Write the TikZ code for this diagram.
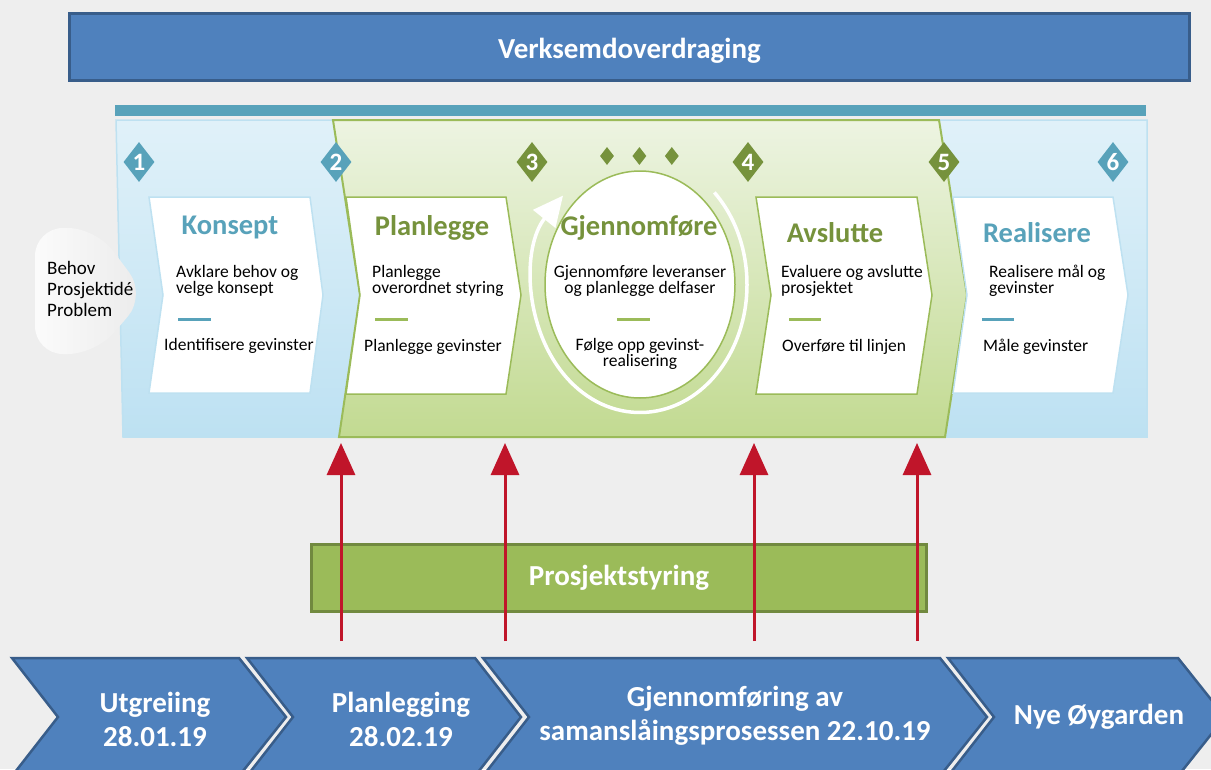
\documentclass[tikz,border=0pt]{standalone}
\usepackage{fontspec}
\setmainfont{Carlito}
\usetikzlibrary{shapes.geometric, arrows.meta, positioning, calc}
\definecolor{bgGray}{RGB}{238, 238, 238}
\definecolor{barBlue}{RGB}{79, 129, 189}
\definecolor{barBlueDark}{RGB}{56, 93, 138}
\definecolor{tealColor}{RGB}{88, 162, 186}
\definecolor{oliveColor}{RGB}{118, 146, 60}
\definecolor{lightGreen}{RGB}{155, 187, 89}
\definecolor{darkGreen}{RGB}{113, 137, 63}
\definecolor{panelBlueTop}{RGB}{224, 241, 249}
\definecolor{panelBlueBottom}{RGB}{189, 225, 242}
\definecolor{panelBlueLine}{RGB}{190, 225, 241}
\definecolor{panelGreenTop}{RGB}{237, 244, 226}
\definecolor{panelGreenBottom}{RGB}{194, 218, 145}
\definecolor{arrowRed}{RGB}{192, 21, 42}
\tikzstyle{topbar} = [rectangle, draw=barBlueDark, line width=3, fill=barBlue, text=white, text height=24, text depth=2, font=\bfseries\fontsize{29}{32}\selectfont]
\tikzstyle{greenbar} = [rectangle, draw=darkGreen, line width=3, fill=lightGreen, text=white, font=\bfseries\fontsize{29}{32}\selectfont]
\tikzstyle{bluepanel} = [draw=panelBlueLine, line width=1.5, top color=panelBlueTop, bottom color=panelBlueBottom]
\tikzstyle{greenpanel} = [draw=lightGreen, line width=2, top color=panelGreenTop, bottom color=panelGreenBottom]
\tikzstyle{bluecard} = [draw=panelBlueLine, line width=1.5, fill=white]
\tikzstyle{greencard} = [draw=lightGreen, line width=1.5, fill=white]
\tikzstyle{bluehead} = [text=tealColor, font=\bfseries\fontsize{28.5}{32}\selectfont]
\tikzstyle{greenhead} = [text=oliveColor, font=\bfseries\fontsize{28.5}{32}\selectfont]
\tikzstyle{bodytext} = [align=left, anchor=west, inner sep=0pt, font=\fontsize{17.5}{16}\selectfont\setlength{\lineskiplimit}{-20pt}]
\tikzstyle{tealdiamond} = [diamond, fill=tealColor, minimum width=31, minimum height=40, inner sep=0pt, text=white, font=\bfseries\fontsize{25}{25}\selectfont]
\tikzstyle{olivediamond} = [diamond, fill=oliveColor, minimum width=31, minimum height=40, inner sep=0pt, text=white, font=\bfseries\fontsize{25}{25}\selectfont]
\tikzstyle{smalldiamond} = [diamond, fill=oliveColor, minimum width=14, minimum height=18, inner sep=0pt]
\tikzstyle{chevron} = [draw=barBlueDark, line width=2.5, fill=barBlue]
\tikzstyle{chevtext} = [align=center, text=white, font=\bfseries\fontsize{29}{34}\selectfont]
\tikzstyle{redarrow} = [draw=arrowRed, line width=3, -{Triangle[length=32pt, width=28pt]}]

\begin{document}
\begin{tikzpicture}[x=1pt, y=-1pt]
				\useasboundingbox (0,0) rectangle (1211,769);
				\clip (0,0) rectangle (1211,769);
				\fill[bgGray] (0,0) rectangle (1211,769);
				
				\node (verksemd) [topbar, minimum width=1120, minimum height=67] at (629.5,47) {Verksemdoverdraging};
				\fill[tealColor] (115,105) rectangle (1146,116);
				
				% phase panels
				\path[bluepanel] (116,120) -- (1147,120) -- (1147,437) -- (123,437) -- cycle;
				\path[left color=white!97!gray, right color=gray!16, rounded corners=28] (146,295) -- (96,228) -- (35,228) -- (35,354) -- (96,354) -- cycle;
				\path[greenpanel] (333,120) -- (939,120) -- (967,295) -- (945,437) -- (339,437) -- (360,295) -- cycle;
				
				\path[bluecard] (149,197) -- (310,197) -- (323,295) -- (310,393) -- (149,393) -- (163,295) -- cycle;
				\path[greencard] (346,197) -- (506,197) -- (521,295) -- (506,394) -- (346,394) -- (360,295) -- cycle;
				\path[greencard] (756,197) -- (917,197) -- (932,295) -- (917,394) -- (756,394) -- (771,295) -- cycle;
				\path[bluecard] (953,197) -- (1113,197) -- (1128,295) -- (1113,393) -- (953,393) -- (967,295) -- cycle;
				
				\node (gjennom) [ellipse, draw=lightGreen, line width=1.5, fill=white, minimum width=190, minimum height=227, inner sep=0pt] at (640,284.5) {};
				\draw[white, line width=3.5, -{Triangle[length=30pt, width=28pt]}] (gjennom.center) ++(-46:107 and 128) arc[start angle=-46, end angle=224, x radius=107, y radius=128];
				
				% milestones
				\node (d1) [tealdiamond] at (139,162) {1};
				\node (d2) [tealdiamond] at (336,162) {2};
				\node (d3) [olivediamond] at (532,162) {3};
				\node (d4) [olivediamond] at (748,162) {4};
				\node (d5) [olivediamond] at (944,162) {5};
				\node (d6) [tealdiamond] at (1113,162) {6};
				\node (dot1) [smalldiamond] at (607,156) {};
				\node (dot2) [smalldiamond, right=18 of dot1] {};
				\node (dot3) [smalldiamond, right=18 of dot2] {};
				
				\node (behov) [bodytext, font=\fontsize{19}{21}\selectfont] at (47,289) {Behov\\Prosjektidé\\Problem};
				
				\node (konsept) [bluehead] at (230,227) {Konsept};
				\node (konseptmain) [bodytext] at (176,281) {Avklare behov og\\velge konsept};
				\draw[tealColor, line width=3] (178,319) -- (211,319);
				\node (konseptgain) [bodytext] at (164,346) {Identifisere gevinster};
				
				\node (planlegge) [greenhead] at (432,228) {Planlegge};
				\node (planleggemain) [bodytext] at (372,281) {Planlegge\\overordnet styring};
				\draw[lightGreen, line width=3] (375,319) -- (408,319);
				\node (planleggegain) [bodytext] at (364,347) {Planlegge gevinster};
				
				\node (gjennomhead) [greenhead] at (639,228) {Gjennomføre};
				\node (gjennommain) [bodytext, anchor=center, align=center] at (640,281) {Gjennomføre leveranser\\og planlegge delfaser};
				\draw[lightGreen, line width=3] (617,319) -- (650,319);
				\node (gjennomgain) [bodytext, anchor=center, align=center] at (640,354) {Følge opp gevinst-\\realisering};
				
				\node (avslutte) [greenhead] at (835,233) {Avslutte};
				\node (avsluttemain) [bodytext] at (781,281) {Evaluere og avslutte\\prosjektet};
				\draw[lightGreen, line width=3] (789,319) -- (821,319);
				\node (avsluttegain) [bodytext] at (782,347) {Overføre til linjen};
				
				\node (realisere) [bluehead] at (1037,233) {Realisere};
				\node (realiseremain) [bodytext] at (989,281) {Realisere mål og\\gevinster};
				\draw[tealColor, line width=3] (982,319) -- (1014,319);
				\node (realiseregain) [bodytext] at (983,347) {Måle gevinster};
				
				% steering
				\node (styring) [greenbar, minimum width=615, minimum height=67] at (619,578) {Prosjektstyring};
				\foreach \x [count=\i] in {341, 505, 754, 917} {
					\coordinate (foot\i) at (\x,641);
					\coordinate (tip\i) at (\x,443);
					\draw[redarrow] (foot\i) -- (tip\i);
				}
				
				% timeline
				\path[chevron] (12,658) -- (239,658) -- (286,717) -- (239,776) -- (12,776) -- (58,717) -- cycle;
				\path[chevron] (247,658) -- (475,658) -- (521,717) -- (475,776) -- (247,776) -- (293,717) -- cycle;
				\path[chevron] (483,658) -- (940,658) -- (987,717) -- (940,776) -- (483,776) -- (529,717) -- cycle;
				\path[chevron] (948,658) -- (1178,658) -- (1225,717) -- (1178,776) -- (948,776) -- (994,717) -- cycle;
				\node (utgreiing) [chevtext] at (155,719) {Utgreiing\\28.01.19};
				\node (planlegging) [chevtext] at (401,719) {Planlegging\\28.02.19};
				\node (gjennomforing) [chevtext] at (735,716) {Gjennomføring av\\samanslåingsprosessen 22.10.19};
				\node (nye) [chevtext] at (1099,717) {Nye Øygarden};
			\end{tikzpicture}
\end{document}
